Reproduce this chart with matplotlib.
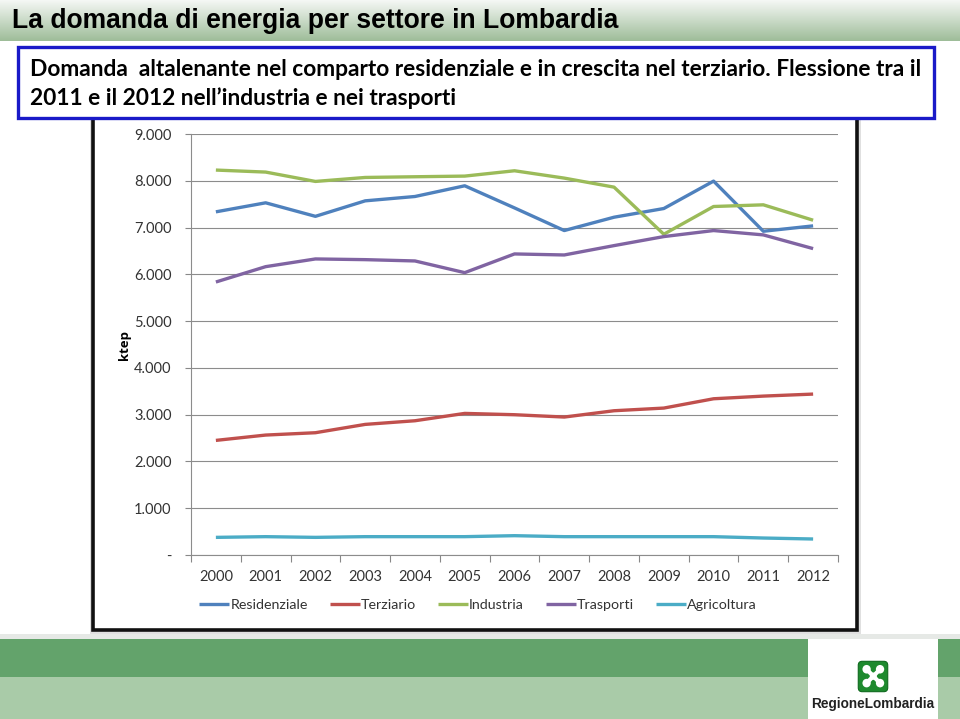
import numpy as np
import matplotlib
matplotlib.use("Agg")
import matplotlib.pyplot as plt
from matplotlib.patches import Rectangle, FancyBboxPatch, Circle
from matplotlib.ticker import FuncFormatter, FixedLocator

# ---------------- data ----------------
years = ["2000", "2001", "2002", "2003", "2004", "2005", "2006",
         "2007", "2008", "2009", "2010", "2011", "2012"]
residenziale = [7336, 7529, 7240, 7571, 7664, 7893, 7420, 6936, 7221, 7407, 7993, 6921, 7036]
terziario = [2450, 2564, 2614, 2792, 2870, 3027, 2999, 2949, 3084, 3141, 3340, 3397, 3440]
industria = [8229, 8186, 7986, 8071, 8086, 8100, 8214, 8057, 7864, 6857, 7450, 7486, 7157]
trasporti = [5836, 6164, 6329, 6314, 6286, 6036, 6436, 6414, 6614, 6807, 6936, 6843, 6550]
agricoltura = [377, 392, 377, 392, 392, 392, 413, 392, 392, 392, 392, 363, 342]

series_names = ["Residenziale", "Terziario", "Industria", "Trasporti", "Agricoltura"]
series_values = [residenziale, terziario, industria, trasporti, agricoltura]
series_colors = ["#4F81BD", "#C0504D", "#9BBB59", "#8064A2", "#4BACC6"]
yticks = [0, 1000, 2000, 3000, 4000, 5000, 6000, 7000, 8000, 9000]

title = "La domanda di energia per settore in Lombardia"
subtitle1 = "Domanda  altalenante nel comparto residenziale e in crescita nel terziario. Flessione tra il"
subtitle2 = "2011 e il 2012 nell\u2019industria e nei trasporti"

W, H = 960, 719
fig = plt.figure(figsize=(W / 100, H / 100), dpi=100)
fig.patch.set_facecolor("white")

def fx(x):
    return x / W

def fy(y):
    return 1 - y / H

# ---------------- header gradient ----------------
hdr = fig.add_axes([0, fy(41), 1, 41 / H])
hdr.set_axis_off()
grad = np.linspace(0, 1, 64).reshape(-1, 1)
c_top = np.array([0.96, 0.97, 0.96])
c_bot = np.array([0.62, 0.74, 0.60])
img = c_top[None, None, :] * (1 - grad[:, :, None]) + c_bot[None, None, :] * grad[:, :, None]
hdr.imshow(img, aspect="auto", extent=[0, 1, 0, 1], origin="upper")
hdr.set_xlim(0, 1)
hdr.set_ylim(0, 1)
fig.text(fx(12), fy(21), title, fontsize=19.1, fontweight="bold",
         family=["Liberation Sans Narrow", "Liberation Sans"], color="black",
         ha="left", va="center")

# ---------------- chart frame ----------------
fig.patches.append(Rectangle((fx(90), fy(634)), fx(861) - fx(90), fy(115) - fy(634),
                             transform=fig.transFigure, facecolor="#e0e0e0",
                             edgecolor="none", zorder=0))
fig.patches.append(Rectangle((fx(93), fy(630)), fx(857) - fx(93), fy(117) - fy(630),
                             transform=fig.transFigure, facecolor="white",
                             edgecolor="#111111", linewidth=2.6, zorder=1))

# ---------------- subtitle box ----------------
fig.patches.append(Rectangle((fx(18), fy(118)), fx(934) - fx(18), fy(47) - fy(118),
                             transform=fig.transFigure, facecolor="white",
                             edgecolor="#1A1AC8", linewidth=2.4, zorder=2))
fig.text(fx(30), fy(70), subtitle1, fontsize=16.4, fontweight="bold",
         family=["Lato", "DejaVu Sans"], color="black", ha="left", va="center", zorder=3)
fig.text(fx(30), fy(98), subtitle2, fontsize=16.4, fontweight="bold",
         family=["Lato", "DejaVu Sans"], color="black", ha="left", va="center", zorder=3)

# ---------------- main axes ----------------
ax = fig.add_axes([fx(191), fy(555), fx(838) - fx(191), fy(134) - fy(555)])
ax.set_zorder(5)
ax.set_facecolor("none")
x = np.arange(len(years))
for name, vals, col in zip(series_names, series_values, series_colors):
    ax.plot(x, vals, color=col, linewidth=2.4, label=name, solid_capstyle="butt",
            solid_joinstyle="round", zorder=3)

ax.set_xlim(-0.5, len(years) - 0.5)
ax.set_ylim(0, 9000)
ax.yaxis.set_major_locator(FixedLocator(yticks))
ax.yaxis.set_major_formatter(FuncFormatter(
    lambda v, p: "-" if v == 0 else f"{int(v):,}".replace(",", ".")))
ax.set_xticks(x)
ax.set_xticklabels(years)
ax.set_xticks(np.arange(-0.5, len(years)), minor=True)
ax.tick_params(axis="x", which="major", length=0, pad=11, labelsize=10.5,
               labelcolor="#333333")
ax.tick_params(axis="x", which="minor", length=5, width=0.8, color="#888888",
               direction="out")
ax.tick_params(axis="y", which="major", length=4, width=0.8, color="#888888",
               pad=10, labelsize=10.5, labelcolor="#333333", direction="out")
for lbl in ax.get_xticklabels() + ax.get_yticklabels():
    lbl.set_family(["Lato", "DejaVu Sans"])
ax.grid(axis="y", color="#8c8c8c", linewidth=0.8, zorder=0)
ax.set_axisbelow(True)
for s in ["top", "right"]:
    ax.spines[s].set_visible(False)
ax.spines["left"].set_color("#8c8c8c")
ax.spines["bottom"].set_color("#8c8c8c")
ax.spines["left"].set_linewidth(0.8)
ax.spines["bottom"].set_linewidth(0.8)

fig.text(fx(124), fy(345), "ktep", rotation=90, fontsize=9.5, fontweight="bold",
         family=["Open Sans", "DejaVu Sans"], ha="center", va="center", color="black",
         zorder=6)

leg = fig.legend(*ax.get_legend_handles_labels(), loc="center",
                 bbox_to_anchor=(fx(478), fy(605)), ncol=5, frameon=False,
                 handlelength=2.1, handletextpad=0.1, columnspacing=1.5,
                 prop={"family": ["Lato", "DejaVu Sans"], "size": 10.3})
leg.set_zorder(6)
for t in leg.get_texts():
    t.set_color("#333333")

# ---------------- footer ----------------
fig.patches.append(Rectangle((0, fy(677)), 1, fy(639) - fy(677), transform=fig.transFigure,
                             facecolor="#63A36B", edgecolor="none", zorder=0))
fig.patches.append(Rectangle((0, 0), 1, fy(677), transform=fig.transFigure,
                             facecolor="#A9CBA8", edgecolor="none", zorder=0))
fig.patches.append(Rectangle((0, fy(639)), 1, fy(634) - fy(639), transform=fig.transFigure,
                             facecolor="#e6e9e6", edgecolor="none", zorder=0))
fig.patches.append(Rectangle((fx(808), 0), fx(938) - fx(808), fy(639), transform=fig.transFigure,
                             facecolor="white", edgecolor="none", zorder=1))
# logo
lg = fig.add_axes([fx(857), fy(693), fx(889) - fx(857), fy(660) - fy(693)])
lg.set_zorder(5)
lg.set_axis_off()
lg.set_xlim(0, 1)
lg.set_ylim(0, 1)
lg.add_patch(FancyBboxPatch((0.04, 0.04), 0.92, 0.92, boxstyle="round,pad=0,rounding_size=0.12",
                            facecolor="#1E8A2E", edgecolor="#0F6A1E", linewidth=0.8))
for (cx, cy) in [(0.3, 0.72), (0.72, 0.72), (0.3, 0.3), (0.72, 0.3)]:
    lg.add_patch(Circle((cx, cy), 0.13, facecolor="white", edgecolor="none"))
lg.add_patch(Circle((0.51, 0.51), 0.11, facecolor="white", edgecolor="none"))
lg.plot([0.3, 0.72], [0.72, 0.3], color="white", linewidth=3.0)
lg.plot([0.3, 0.72], [0.3, 0.72], color="white", linewidth=3.0)
fig.text(fx(873), fy(704), "RegioneLombardia", fontsize=9.8, fontweight="bold",
         family=["Liberation Sans", "DejaVu Sans"], color="#222222", ha="center", va="center",
         zorder=6)

fig.savefig("out.png", dpi=100)
